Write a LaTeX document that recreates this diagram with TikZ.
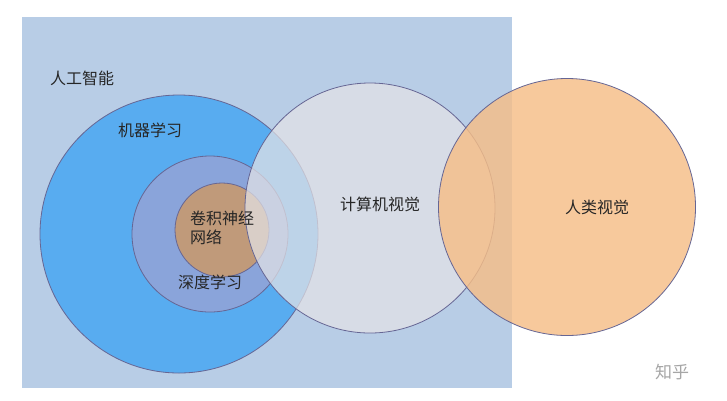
\documentclass[tikz,border=0pt]{standalone}
\usepackage{fontspec}
\setmainfont{Noto Sans CJK SC}
\begin{document}
\begin{tikzpicture}[x=1pt,y=-1pt,
  ring/.style={draw=black!70!blue!60, line width=0.8pt},
  lbl/.style={font=\fontsize{16}{19}\selectfont, text=black!85}]
\useasboundingbox (0,0) rectangle (727,400);
\fill[white] (0,0) rectangle (727,400);
\node[draw=none,fill={rgb,255:red,184;green,205;blue,230},minimum width=490pt,minimum height=371pt,inner sep=0pt] (ai) at (267,202.5) {};
\node[circle,ring,fill={rgb,255:red,88;green,172;blue,240},minimum size=278pt,inner sep=0pt] (ml) at (179,234) {};
\node[circle,ring,fill={rgb,255:red,138;green,164;blue,218},minimum size=156pt,inner sep=0pt] (dl) at (210,234) {};
\node[circle,ring,fill={rgb,255:red,192;green,154;blue,122},minimum size=94pt,inner sep=0pt] (cnn) at (222,230) {};
\node[circle,ring,fill={rgb,255:red,228;green,227;blue,230},fill opacity=0.72,minimum size=250pt,inner sep=0pt] (cv) at (370,208) {};
\node[circle,ring,fill={rgb,255:red,246;green,190;blue,135},fill opacity=0.82,minimum size=257pt,inner sep=0pt] (hv) at (567,207) {};
\node[lbl] (t1) at (82,78) {人工智能};
\node[lbl] (t2) at (150,130) {机器学习};
\node[lbl,align=left] (t3) at (222,228) {卷积神经\\网络};
\node[lbl] (t4) at (210,282) {深度学习};
\node[lbl] (t5) at (380,204) {计算机视觉};
\node[lbl] (t6) at (597,207) {人类视觉};
\node[font=\fontsize{17}{20}\selectfont, text=black!35] (wm) at (672,372) {知乎};
\end{tikzpicture}
\end{document}
